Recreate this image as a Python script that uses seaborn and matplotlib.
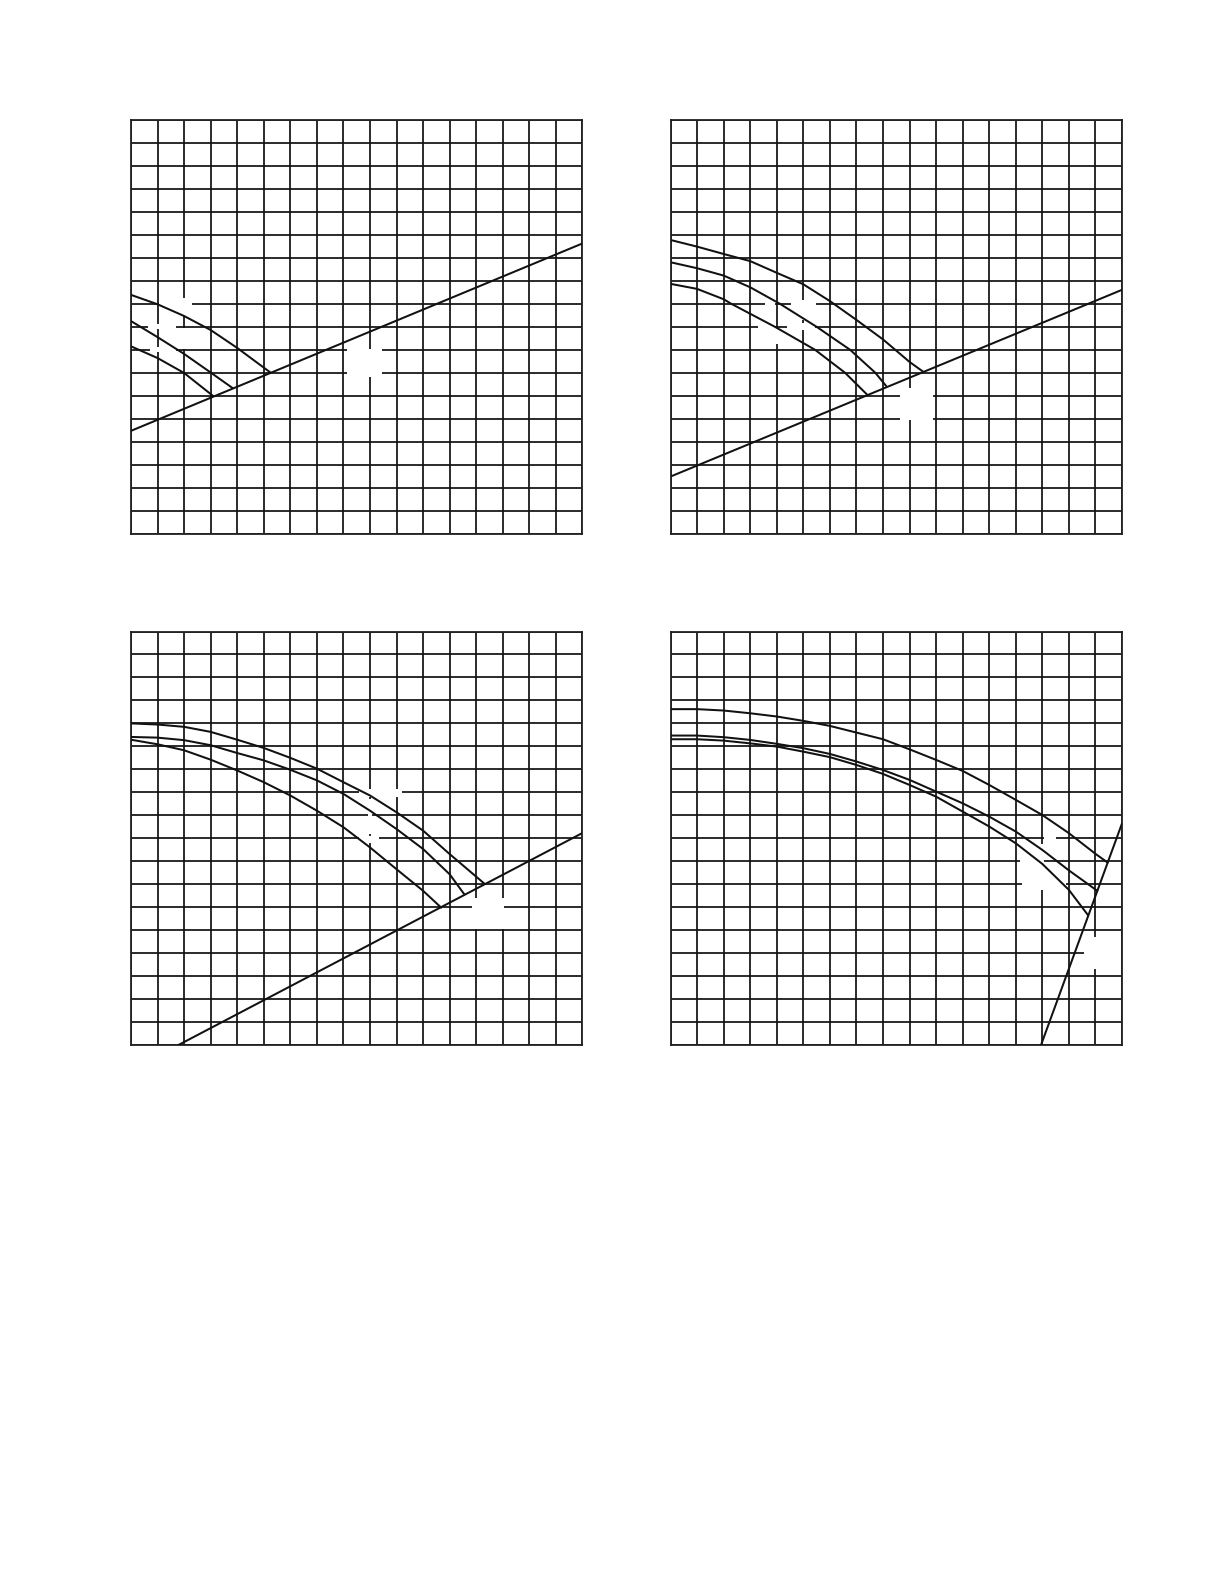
import numpy as np
import pandas as pd
import matplotlib
matplotlib.use("Agg")
import matplotlib.pyplot as plt
import seaborn as sns
from matplotlib.patches import Rectangle


# grid size of every panel (columns x rows)
n_cols = 17
n_rows = 18

# ---- panel 1 (top left) ----
p1_a_x = [0, 1, 2, 3, 4, 4.77, 5.25]
p1_a_y = [10.39, 9.98, 9.47, 8.86, 8.08, 7.42, 7.01]
p1_b_x = [0, 1, 2, 3, 3.83]
p1_b_y = [9.25, 8.55, 7.82, 7.01, 6.33]
p1_c_x = [0, 1, 2, 3.08]
p1_c_y = [8.15, 7.64, 6.99, 6.0]
p1_line_x = [0, 17]
p1_line_y = [4.47, 12.63]

# ---- panel 2 (top right) ----
p2_a_x = [0, 1, 2, 3, 4, 5, 6, 7, 8, 9, 9.53]
p2_a_y = [12.78, 12.49, 12.17, 11.86, 11.35, 10.85, 10.12, 9.3, 8.45, 7.47, 7.03]
p2_b_x = [0, 1, 2, 3, 4.12, 5.5, 6.76, 7.71, 8.12]
p2_b_y = [11.81, 11.55, 11.23, 10.72, 10.0, 9.0, 8.0, 7.0, 6.42]
p2_c_x = [0, 1, 2, 2.29, 3.93, 5.44, 6.57, 7.39]
p2_c_y = [10.87, 10.65, 10.2, 10.0, 9.0, 8.0, 7.0, 6.06]
p2_line_x = [0, 17]
p2_line_y = [2.48, 10.61]

# ---- panel 3 (bottom left) ----
p3_a_x = [0, 1, 2, 3, 4, 5, 6, 7, 8, 9, 10, 11, 12, 13.3]
p3_a_y = [14.0, 13.95, 13.85, 13.63, 13.29, 12.93, 12.5, 12.03, 11.44, 10.86, 10.13, 9.33, 8.31, 7.03]
p3_b_x = [0, 1, 2, 3, 4, 5, 6, 7, 8, 9, 10, 11, 12, 12.55]
p3_b_y = [13.41, 13.38, 13.27, 13.05, 12.71, 12.39, 11.98, 11.52, 10.93, 10.2, 9.4, 8.53, 7.43, 6.56]
p3_c_x = [0, 1, 2, 3, 4, 5, 6, 7, 8, 9, 10, 11, 11.68]
p3_c_y = [13.29, 13.09, 12.83, 12.42, 11.95, 11.44, 10.86, 10.2, 9.48, 8.6, 7.65, 6.71, 5.98]
p3_line_x = [1.79, 17]
p3_line_y = [0, 9.23]

# ---- panel 4 (bottom right) ----
p4_a_x = [0, 1, 2, 3, 4, 5, 6, 7, 8, 9, 10, 11, 12, 13, 14, 15, 16, 16.46]
p4_a_y = [14.62, 14.62, 14.56, 14.44, 14.3, 14.11, 13.89, 13.6, 13.31, 12.87,
          12.41, 11.93, 11.32, 10.67, 10.01, 9.22, 8.32, 7.94]
p4_b_x = [0, 1, 2, 3, 4, 5, 6, 7, 8, 9, 10, 11, 12, 13, 14, 15, 16.07]
p4_b_y = [13.47, 13.47, 13.4, 13.28, 13.11, 12.92, 12.67, 12.34, 11.97, 11.54,
          11.03, 10.52, 9.94, 9.29, 8.49, 7.6, 6.71]
p4_c_x = [0, 1, 2, 3, 4, 5, 6, 7, 8, 9, 10, 11, 12, 13, 14, 15, 15.72]
p4_c_y = [13.31, 13.31, 13.25, 13.13, 12.99, 12.77, 12.53, 12.19, 11.8, 11.32,
          10.81, 10.16, 9.51, 8.78, 7.88, 6.75, 5.65]
p4_line_x = [13.95, 17]
p4_line_y = [0, 9.65]


# white label backgrounds (labels themselves are blank), x0, y0, w, h
blanks = {
    0: [(1.05, 9.45, 1.25, 0.8), (0.65, 8.9, 1.05, 0.2), (0.7, 7.9, 1.0, 0.2),
        (1.93, 8.05, 0.14, 0.9), (8.15, 6.8, 1.3, 1.22)],
    1: [(3.55, 9.85, 0.38, 0.3), (4.53, 9.3, 0.94, 0.85), (3.3, 8.85, 0.63, 0.3),
        (4.4, 8.85, 1.04, 0.3), (3.93, 8.25, 0.14, 0.7), (8.64, 4.95, 1.26, 1.4)],
    2: [(8.6, 10.8, 1.6, 0.35), (8.6, 8.8, 0.75, 0.3), (8.93, 9.2, 0.14, 1.5),
        (12.84, 5.05, 1.21, 1.35)],
    3: [(14.05, 8.85, 0.45, 0.3), (13.15, 7.85, 0.85, 0.25), (13.25, 6.85, 1.65, 0.25),
        (13.93, 6.75, 0.14, 2.0), (15.55, 3.3, 1.4, 1.4)],
}

ink = "#111111"


def draw_panel(ax, curves, line_x, line_y, blank_list):

    ax.set_xlim(0, n_cols)
    ax.set_ylim(0, n_rows)
    ax.set_xticks(range(n_cols + 1))
    ax.set_yticks(range(n_rows + 1))
    ax.set_axisbelow(True)
    ax.grid(True, color=ink, lw=1.25, alpha=1)
    ax.tick_params(length=0, labelbottom=False, labelleft=False)

    for sp in ax.spines.values():
        sp.set_color("#222222")
        sp.set_linewidth(1.3)

    for (x0, y0, w, h) in blank_list:
        ax.add_patch(Rectangle((x0, y0), w, h, facecolor="white", edgecolor="none", zorder=1))

    for cx, cy in curves:
        df = pd.DataFrame({"x": cx, "y": cy})
        sns.lineplot(data=df, x="x", y="y", ax=ax, color=ink, lw=1.45,
                     sort=False, estimator=None, zorder=3)

    df_line = pd.DataFrame({"x": line_x, "y": line_y})
    sns.lineplot(data=df_line, x="x", y="y", ax=ax, color=ink, lw=1.45,
                 sort=False, estimator=None, zorder=3)
    ax.set_xlabel("")
    ax.set_ylabel("")


sns.set_style("white")

fig, axes = plt.subplots(2, 2, figsize=(12.24, 15.84), dpi=100)
fig.subplots_adjust(left=0.107, right=0.9167, top=0.9242, bottom=0.3403,
                    wspace=0.195, hspace=0.237)

panels = [
    ([(p1_a_x, p1_a_y), (p1_b_x, p1_b_y), (p1_c_x, p1_c_y)], p1_line_x, p1_line_y),
    ([(p2_a_x, p2_a_y), (p2_b_x, p2_b_y), (p2_c_x, p2_c_y)], p2_line_x, p2_line_y),
    ([(p3_a_x, p3_a_y), (p3_b_x, p3_b_y), (p3_c_x, p3_c_y)], p3_line_x, p3_line_y),
    ([(p4_a_x, p4_a_y), (p4_b_x, p4_b_y), (p4_c_x, p4_c_y)], p4_line_x, p4_line_y),
]

for i, ax in enumerate(axes.flat):
    curves, lx, ly = panels[i]
    draw_panel(ax, curves, lx, ly, blanks[i])

fig.savefig("out.png", dpi=100, facecolor="white")
